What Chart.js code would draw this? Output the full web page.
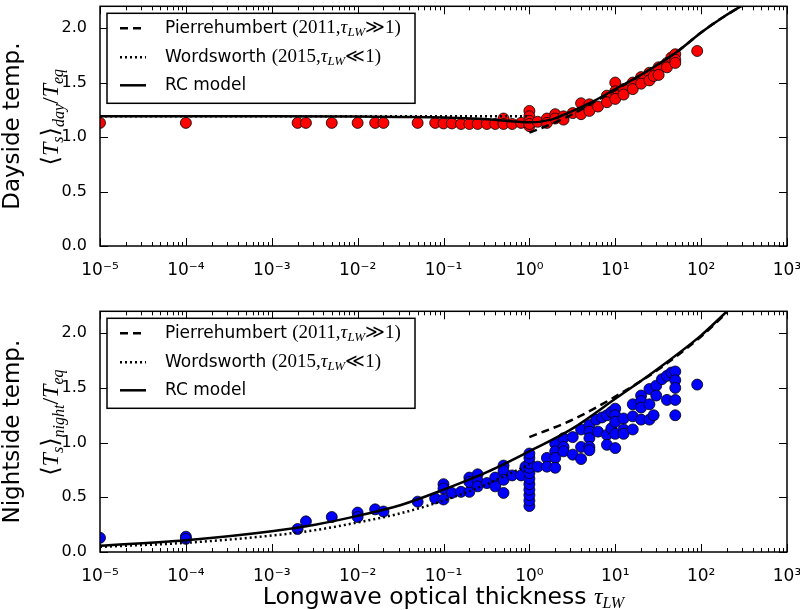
<!DOCTYPE html>
<html>
<head>
<meta charset="utf-8" />
<script src="https://cdn.jsdelivr.net/npm/chart.js@4"></script>
<style>
  html, body { margin: 0; padding: 0; background: #fff; }
  .panel { position: absolute; left: 0; width: 800px; height: 305px; }
</style>
</head>
<body>
<div class="panel" style="top: 0"><canvas id="dayChart" width="800" height="305"></canvas></div>
<div class="panel" style="top: 305px"><canvas id="nightChart" width="800" height="305"></canvas></div>
<script>
const xTickValues = [1e-5, 1e-4, 1e-3, 1e-2, 1e-1, 1, 10, 100, 1000];
const xTickLabels = ["10⁻⁵", "10⁻⁴", "10⁻³", "10⁻²", "10⁻¹", "10⁰", "10¹", "10²", "10³"];
const yTickValues = [0, 0.5, 1.0, 1.5, 2.0];

// simulations, dayside
const dayTau = [1e-5, 1e-4, 0.002, 0.0025, 0.005, 0.01, 0.016, 0.02, 0.05, 0.08, 0.1, 0.125, 0.16, 0.2, 0.25, 0.32, 0.4, 0.5, 0.5, 0.5, 0.63, 0.8, 1, 1, 1, 1, 1, 1.25, 1.6, 1.6, 2, 2, 2.5, 2.5, 3.2, 4, 4, 5, 5, 6.3, 8, 8, 10, 10, 10, 12.5, 12.5, 16, 16, 20, 20, 25, 25, 28, 32, 32, 40, 40, 45, 50, 50, 50, 90];
const dayTemp = [1.13, 1.13, 1.13, 1.13, 1.13, 1.13, 1.13, 1.13, 1.13, 1.13, 1.125, 1.125, 1.12, 1.12, 1.12, 1.12, 1.12, 1.13, 1.17, 1.12, 1.12, 1.13, 1.24, 1.19, 1.15, 1.10, 1.12, 1.14, 1.17, 1.13, 1.21, 1.17, 1.19, 1.16, 1.22, 1.31, 1.21, 1.30, 1.24, 1.28, 1.38, 1.32, 1.50, 1.42, 1.35, 1.44, 1.39, 1.50, 1.44, 1.55, 1.49, 1.59, 1.52, 1.56, 1.64, 1.57, 1.68, 1.64, 1.73, 1.76, 1.71, 1.68, 1.79];

// simulations, nightside
const nightTau = [1e-5, 1e-4, 1e-4, 0.002, 0.0025, 0.005, 0.01, 0.01, 0.016, 0.02, 0.05, 0.08, 0.1, 0.1, 0.1, 0.125, 0.16, 0.2, 0.2, 0.2, 0.25, 0.25, 0.25, 0.32, 0.4, 0.4, 0.5, 0.5, 0.5, 0.5, 0.63, 0.8, 0.9, 1, 1, 1, 1, 1, 1, 1, 1, 1, 1, 1, 1.25, 1.6, 1.6, 2, 2, 2, 2, 2.5, 2.5, 2.5, 3.2, 3.2, 4, 4, 4, 5, 5, 5, 5, 5, 6, 6.3, 7, 8, 8, 8, 9, 9, 10, 10, 10, 10, 10, 12.5, 12.5, 12.5, 16, 16, 16, 20, 20, 20, 20, 25, 25, 25, 28, 30, 30, 35, 40, 40, 45, 50, 50, 50, 50, 50, 90];
const nightTemp = [0.13, 0.14, 0.12, 0.21, 0.28, 0.32, 0.36, 0.32, 0.39, 0.37, 0.46, 0.49, 0.62, 0.58, 0.48, 0.54, 0.55, 0.55, 0.68, 0.64, 0.71, 0.65, 0.60, 0.63, 0.68, 0.60, 0.79, 0.74, 0.66, 0.54, 0.70, 0.70, 0.78, 0.42, 0.47, 0.52, 0.57, 0.62, 0.67, 0.72, 0.77, 0.81, 0.86, 0.90, 0.78, 0.86, 0.78, 0.99, 0.92, 0.86, 0.77, 1.04, 0.96, 0.92, 1.05, 0.89, 1.12, 0.96, 0.85, 1.16, 1.10, 1.04, 0.96, 0.93, 1.21, 1.10, 1.23, 1.25, 1.07, 0.98, 1.28, 1.13, 1.31, 1.25, 1.19, 1.08, 0.95, 1.22, 1.12, 1.08, 1.35, 1.24, 1.12, 1.43, 1.38, 1.32, 1.21, 1.49, 1.35, 1.21, 1.25, 1.52, 1.43, 1.58, 1.61, 1.39, 1.64, 1.65, 1.57, 1.50, 1.39, 1.25, 1.53];

// model curves, dayside
const rcDayTau = [1e-5, 1e-4, 1e-3, 0.01, 0.03, 0.1, 0.3, 1, 1.8, 3.2, 5.6, 10, 18, 32, 56, 100, 180, 320];
const rcDay = [1.19, 1.19, 1.19, 1.188, 1.185, 1.18, 1.165, 1.135, 1.16, 1.24, 1.33, 1.44, 1.55, 1.67, 1.80, 1.96, 2.10, 2.22];
const pierreDayTau = [1, 1.8, 3.2, 5.6, 10, 18, 32, 56, 100, 180, 320];
const pierreDay = [1.04, 1.12, 1.21, 1.32, 1.43, 1.55, 1.67, 1.80, 1.96, 2.10, 2.22];
const wordsDayTau = [1e-5, 1e-3, 0.1, 1];
const wordsDay = [1.19, 1.19, 1.19, 1.19];

// model curves, nightside
const rcNightTau = [1e-5, 1e-4, 1e-3, 0.0032, 0.01, 0.032, 0.1, 0.32, 1, 3.2, 10, 32, 100, 200];
const rcNight = [0.057, 0.108, 0.19, 0.25, 0.33, 0.43, 0.57, 0.73, 0.92, 1.13, 1.40, 1.68, 1.98, 2.2];
const pierreNightTau = [1, 3.2, 10, 32, 100, 200];
const pierreNight = [1.05, 1.21, 1.42, 1.67, 1.97, 2.19];
const wordsNightTau = [1e-5, 1e-4, 1e-3, 0.0032, 0.01, 0.032, 0.1, 0.32, 1];
const wordsNight = [0.047, 0.084, 0.15, 0.20, 0.27, 0.355, 0.47, 0.62, 0.80];

const SANS = '"DejaVu Sans", sans-serif';
const SERIF = '"Liberation Serif", "DejaVu Serif", serif';

const toPoints = (xs, ys) => xs.map((x, i) => ({ x: x, y: ys[i] }));

const partsWidth = (ctx, parts) =>
  parts.reduce((w, p) => {
    ctx.font = p.font;
    return w + ctx.measureText(p.t).width;
  }, 0);

const drawParts = (ctx, x, y, parts) => {
  parts.forEach((p) => {
    ctx.font = p.font;
    ctx.fillText(p.t, x, y + (p.dy || 0));
    x += ctx.measureText(p.t).width;
  });
};

const legendRows = [
  [
    { t: "Pierrehumbert ", font: `17px ${SANS}` },
    { t: "(2011,", font: `19px ${SERIF}` },
    { t: "τ", font: `italic 19px ${SERIF}` },
    { t: "LW", font: `italic 13px ${SERIF}`, dy: 4 },
    { t: "≫1)", font: `19px ${SERIF}` },
  ],
  [
    { t: "Wordsworth ", font: `17px ${SANS}` },
    { t: "(2015,", font: `19px ${SERIF}` },
    { t: "τ", font: `italic 19px ${SERIF}` },
    { t: "LW", font: `italic 13px ${SERIF}`, dy: 4 },
    { t: "≪1)", font: `19px ${SERIF}` },
  ],
  [{ t: "RC model", font: `17px ${SANS}` }],
];

const mathLabel = (side) => [
  { t: "⟨", font: `24px ${SERIF}` },
  { t: "T", font: `italic 24px ${SERIF}` },
  { t: "s", font: `italic 16px ${SERIF}`, dy: 5 },
  { t: "⟩", font: `24px ${SERIF}` },
  { t: side, font: `italic 16px ${SERIF}`, dy: 6 },
  { t: "/", font: `24px ${SERIF}` },
  { t: "T", font: `italic 24px ${SERIF}` },
  { t: "eq", font: `italic 16px ${SERIF}`, dy: 5 },
];

const framePlugin = {
  id: "frame",
  afterDatasetsDraw(chart, args, opts) {
    const { ctx, chartArea: a } = chart;
    const xs = chart.scales.x;
    const ys = chart.scales.y;
    ctx.save();
    ctx.strokeStyle = "#000";
    ctx.fillStyle = "#000";
    ctx.setLineDash([]);

    // inward ticks on all four sides
    ctx.lineWidth = 1;
    ctx.beginPath();
    xTickValues.forEach((v, i) => {
      const px = Math.round(xs.getPixelForValue(v)) + 0.5;
      ctx.moveTo(px, a.bottom);
      ctx.lineTo(px, a.bottom - 8);
      ctx.moveTo(px, a.top);
      ctx.lineTo(px, a.top + 8);
      if (i < xTickValues.length - 1) {
        for (let m = 2; m < 10; m++) {
          const pm = Math.round(xs.getPixelForValue(v * m)) + 0.5;
          ctx.moveTo(pm, a.bottom);
          ctx.lineTo(pm, a.bottom - 4);
          ctx.moveTo(pm, a.top);
          ctx.lineTo(pm, a.top + 4);
        }
      }
    });
    yTickValues.forEach((v) => {
      const py = Math.round(ys.getPixelForValue(v)) + 0.5;
      ctx.moveTo(a.left, py);
      ctx.lineTo(a.left + 8, py);
      ctx.moveTo(a.right, py);
      ctx.lineTo(a.right - 8, py);
    });
    ctx.stroke();

    ctx.lineWidth = 1.5;
    ctx.strokeRect(a.left, a.top, a.right - a.left, a.bottom - a.top);

    // legend box
    const bx = a.left + 7;
    const by = a.top + 7;
    ctx.fillStyle = "#fff";
    ctx.fillRect(bx, by, 308, 90);
    ctx.strokeRect(bx, by, 308, 90);
    const rowY = [15, 44, 72];
    const curveSets = chart.data.datasets.filter((d) => d.showLine);
    ctx.textBaseline = "middle";
    ctx.textAlign = "left";
    curveSets.forEach((d, i) => {
      const y = by + rowY[i];
      ctx.lineWidth = d.borderWidth;
      ctx.setLineDash(d.borderDash || []);
      ctx.beginPath();
      ctx.moveTo(bx + 13, y);
      ctx.lineTo(bx + 39, y);
      ctx.stroke();
      ctx.setLineDash([]);
      ctx.fillStyle = "#000";
      drawParts(ctx, bx + 58, y, legendRows[i]);
    });

    // y axis title, two lines
    const cy = (a.top + a.bottom) / 2;
    ctx.textBaseline = "alphabetic";
    ctx.save();
    ctx.translate(19, cy);
    ctx.rotate(-Math.PI / 2);
    ctx.font = `23px ${SANS}`;
    const w1 = ctx.measureText(opts.title).width;
    ctx.fillText(opts.title, -w1 / 2, 0);
    ctx.restore();

    ctx.save();
    ctx.translate(58, cy - 9);
    ctx.rotate(-Math.PI / 2);
    const math = mathLabel(opts.side);
    const w2 = partsWidth(ctx, math);
    drawParts(ctx, -w2 / 2, 0, math);
    ctx.restore();

    // x axis title
    if (opts.xTitle) {
      ctx.textBaseline = "middle";
      const xt = [
        { t: "Longwave optical thickness ", font: `23.5px ${SANS}` },
        { t: "τ", font: `italic 24px ${SERIF}` },
        { t: "LW", font: `italic 16px ${SERIF}`, dy: 6 },
      ];
      const w3 = partsWidth(ctx, xt);
      drawParts(ctx, (a.left + a.right) / 2 - w3 / 2, a.bottom + 46, xt);
    }
    ctx.restore();
  },
};

const curve = (label, xs, ys, dash) => ({
  label: label,
  data: toPoints(xs, ys),
  showLine: true,
  borderColor: "#000",
  borderWidth: 2.5,
  borderDash: dash,
  pointRadius: 0,
  cubicInterpolationMode: "monotone",
  fill: false,
  clip: 0,
  order: 0,
});

const makeChart = (canvasId, pts, color, curves, opts) => {
  const ctx = document.querySelector(`canvas#${canvasId}`).getContext("2d");
  return new Chart(ctx, {
    type: "scatter",
    data: {
      datasets: [
        {
          label: "simulations",
          data: pts,
          backgroundColor: color,
          borderColor: "#000",
          borderWidth: 0.8,
          pointRadius: 5.5,
          clip: 0,
          order: 1,
        },
        ...curves,
      ],
    },
    options: {
      responsive: false,
      animation: false,
      events: [],
      layout: { padding: { left: 0, right: 13, top: opts.top, bottom: 0 } },
      plugins: {
        legend: { display: false },
        tooltip: { enabled: false },
        frame: opts,
      },
      scales: {
        x: {
          type: "logarithmic",
          min: 1e-5,
          max: 1e3,
          grid: { display: false },
          border: { display: false },
          afterBuildTicks: (s) => {
            s.ticks = xTickValues.map((v) => ({ value: v }));
          },
          afterFit: (s) => {
            s.height = opts.xHeight;
            s.paddingLeft = 0;
            s.paddingRight = 0;
          },
          ticks: {
            autoSkip: false,
            maxRotation: 0,
            padding: 6,
            color: "#000",
            font: { family: "DejaVu Sans", size: 17 },
            callback: (v) => xTickLabels[xTickValues.indexOf(v)],
          },
        },
        y: {
          min: 0,
          max: 2.2,
          grid: { display: false },
          border: { display: false },
          afterBuildTicks: (s) => {
            s.ticks = yTickValues.map((v) => ({ value: v }));
          },
          afterFit: (s) => {
            s.width = 100;
            s.paddingTop = 0;
            s.paddingBottom = 0;
          },
          ticks: {
            padding: 5,
            color: "#000",
            font: { family: "DejaVu Sans", size: 16 },
            callback: (v) => Number(v).toFixed(1),
          },
        },
      },
    },
    plugins: [framePlugin],
  });
};

const dayChart = makeChart(
  "dayChart",
  toPoints(dayTau, dayTemp),
  "#ff0000",
  [
    curve("Pierrehumbert (2011)", pierreDayTau, pierreDay, [8, 5]),
    curve("Wordsworth (2015)", wordsDayTau, wordsDay, [2, 3]),
    curve("RC model", rcDayTau, rcDay, []),
  ],
  { top: 1, xHeight: 59, title: "Dayside temp.", side: "day", xTitle: false }
);

const nightChart = makeChart(
  "nightChart",
  toPoints(nightTau, nightTemp),
  "#0000ff",
  [
    curve("Pierrehumbert (2011)", pierreNightTau, pierreNight, [8, 5]),
    curve("Wordsworth (2015)", wordsNightTau, wordsNight, [2, 3]),
    curve("RC model", rcNightTau, rcNight, []),
  ],
  { top: 3, xHeight: 58, title: "Nightside temp.", side: "night", xTitle: true }
);
</script>
</body>
</html>
